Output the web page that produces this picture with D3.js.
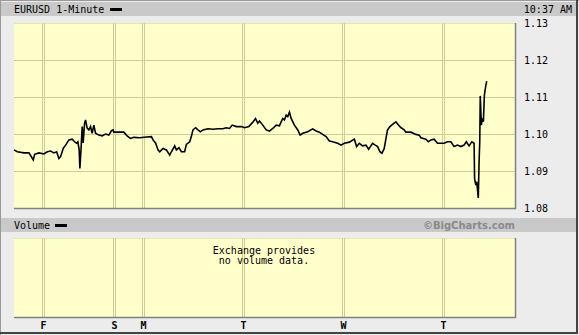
<!DOCTYPE html>
<html>
<head>
<meta charset="utf-8">
<script src="https://cdn.jsdelivr.net/npm/d3@7"></script>
<style>
  body { margin: 0; background: #ececec; }
  svg { display: block; }
  text { font-family: "DejaVu Sans Mono", "Liberation Mono", monospace; font-size: 10px; fill: #000; }
</style>
</head>
<body>
<div id="chart"></div>
<script>
// hours since Thu 17:00 ET, weekend closed time removed
var hours = [0, 0.79, 2.40, 3.59, 4.62, 4.96, 5.99, 7.19, 7.98, 8.79, 9.58, 10.23, 10.78, 11.19, 11.81, 12.38, 13.17, 13.96, 14.54, 15.02,
  15.33, 15.64, 15.81, 16.12, 16.36, 16.60, 16.93, 17.17, 17.56, 17.96, 18.37, 18.75, 19.16, 19.57, 20.36, 21.15, 21.96, 22.75, 23.40, 23.78,
  23.95, 26.35, 27.14, 27.95, 28.74, 30.18, 31.78, 32.98, 33.37, 34.01, 34.56, 34.97, 35.76, 36.57, 37.37, 37.77, 38.56, 38.97, 39.59, 40.17,
  40.96, 41.37, 42.16, 42.56, 42.95, 43.59, 44.14, 44.72, 45.34, 46.54, 47.74, 48.93, 50.13, 50.95, 51.74, 52.38, 53.34, 54.54, 55.33, 56.36,
  57.32, 57.96, 58.51, 58.92, 59.71, 60.53, 61.32, 62.11, 62.92, 63.71, 64.12, 64.50, 64.91, 65.32, 65.70, 66.11, 66.51, 67.31, 68.10, 68.67,
  69.29, 70.49, 71.69, 72.50, 73.29, 74.08, 74.90, 75.69, 76.48, 77.68, 78.49, 79.28, 80.48, 81.68, 82.23, 82.87, 83.66, 84.48, 85.10, 86.06,
  86.71, 87.26, 87.83, 88.31, 88.86, 89.41, 89.65, 90.23, 90.85, 91.66, 92.29, 92.86, 93.65, 94.06, 95.26, 96.46, 97.25, 97.65, 98.85, 99.47,
  100.05, 100.84, 101.63, 102.44, 103.23, 104.02, 104.84, 105.63, 106.42, 107.23, 108.02, 108.57, 109.22, 109.87, 110.42, 110.54, 110.83, 111.07, 111.31, 111.43,
  111.62, 111.78, 111.90, 112.17, 112.41, 112.65, 112.89, 113.22, 113.46];

var prices = [1.0957, 1.0952, 1.0949, 1.0949, 1.0930, 1.0945, 1.0949, 1.0946, 1.0952, 1.0954, 1.0949, 1.0952, 1.0934, 1.0939, 1.0961, 1.0970, 1.0984, 1.0986, 1.0979, 1.0975,
  1.0979, 1.0957, 1.0907, 1.0966, 1.1020, 1.0976, 1.1029, 1.1038, 1.1016, 1.1011, 1.1020, 1.1002, 1.1024, 1.1002, 1.0997, 1.0995, 1.1000, 1.0997, 1.1009, 1.1011,
  1.1005, 1.1005, 1.0995, 1.0988, 1.0991, 1.0990, 1.0992, 1.0993, 1.0984, 1.0975, 1.0957, 1.0952, 1.0961, 1.0957, 1.0943, 1.0952, 1.0968, 1.0957, 1.0963, 1.0952,
  1.0952, 1.0972, 1.0979, 1.0993, 1.1011, 1.1017, 1.1011, 1.1006, 1.1011, 1.1014, 1.1013, 1.1014, 1.1014, 1.1017, 1.1015, 1.1024, 1.1020, 1.1020, 1.1017, 1.1020,
  1.1032, 1.1042, 1.1029, 1.1035, 1.1024, 1.1011, 1.1008, 1.1015, 1.1024, 1.1022, 1.1033, 1.1042, 1.1038, 1.1051, 1.1047, 1.1059, 1.1042, 1.1024, 1.1011, 1.0997,
  1.1002, 1.1006, 1.1014, 1.1008, 1.1005, 1.0999, 1.0993, 1.0981, 1.0979, 1.0975, 1.0970, 1.0975, 1.0978, 1.0986, 1.0966, 1.0975, 1.0968, 1.0970, 1.0959, 1.0975,
  1.0970, 1.0966, 1.0952, 1.0948, 1.0961, 1.0997, 1.1011, 1.1020, 1.1026, 1.1033, 1.1024, 1.1017, 1.1011, 1.1005, 1.1005, 1.0999, 1.0997, 1.0990, 1.0986, 1.0979,
  1.0984, 1.0986, 1.0975, 1.0975, 1.0975, 1.0979, 1.0979, 1.0966, 1.0970, 1.0966, 1.0970, 1.0979, 1.0968, 1.0979, 1.0975, 1.0880, 1.0862, 1.0871, 1.0840, 1.0827,
  1.0925, 1.0979, 1.1103, 1.1024, 1.1042, 1.1033, 1.1105, 1.1130, 1.1143];

var dayLabels = ["F", "S", "M", "T", "W", "T"];
var dayHours = [7, 24, 31, 55, 79, 103];
var priceTicks = [1.08, 1.09, 1.10, 1.11, 1.12, 1.13];

var width = 579, height = 335;
var plot = {left: 14, right: 515, top: 23, bottom: 208};
var vol = {top: 238, bottom: 317};
var bg = "#ffffcc", gridColor = "#cdcd96";

var svg = d3.select("#chart").append("svg")
    .attr("width", width)
    .attr("height", height);

var x = d3.scaleLinear().domain([0, 120]).range([14, 514]);
var y = d3.scaleLinear().domain([1.08, 1.13]).range([plot.bottom, plot.top]);

// outer frame
svg.append("rect").attr("width", width).attr("height", height).attr("fill", "#ececec");
svg.append("rect").attr("x", 0).attr("y", 0).attr("width", 1).attr("height", height).attr("fill", "#999");
svg.append("rect").attr("x", 0).attr("y", 0).attr("width", width).attr("height", 1).attr("fill", "#999");
svg.append("rect").attr("x", width - 3).attr("y", 0).attr("width", 2).attr("height", height - 1).attr("fill", "#444");
svg.append("rect").attr("x", 0).attr("y", height - 3).attr("width", width - 1).attr("height", 2).attr("fill", "#444");

// header bars
svg.append("rect").attr("x", 1).attr("y", 2).attr("width", width - 4).attr("height", 14).attr("fill", "#c9c9c9");
svg.append("rect").attr("x", 1).attr("y", 218).attr("width", width - 4).attr("height", 14).attr("fill", "#c9c9c9");

svg.append("text").attr("x", 14).attr("y", 13).text("EURUSD 1-Minute");
svg.append("rect").attr("x", 110).attr("y", 8).attr("width", 12).attr("height", 3).attr("fill", "#000");
svg.append("text").attr("x", 572).attr("y", 13).attr("text-anchor", "end").text("10:37 AM");

svg.append("text").attr("x", 14).attr("y", 229).text("Volume");
svg.append("rect").attr("x", 55).attr("y", 224).attr("width", 12).attr("height", 3).attr("fill", "#000");
svg.append("text").attr("x", 515).attr("y", 229).attr("text-anchor", "end")
    .style("font-family", "'DejaVu Sans', Verdana, sans-serif")
    .style("font-weight", "bold")
    .style("fill", "#8a8a8a")
    .text("\u00A9BigCharts.com");

// panels
function panel(top, bottom) {
  var g = svg.append("g");
  g.append("rect").attr("x", plot.left).attr("y", top)
    .attr("width", plot.right - plot.left).attr("height", bottom - top)
    .attr("fill", bg);
  g.append("line").attr("x1", plot.left).attr("x2", plot.right).attr("y1", top + 0.5).attr("y2", top + 0.5)
    .attr("stroke", "#e6e6b0");
  dayHours.forEach(function(h) {
    [-1, 1].forEach(function(o) {
      var xx = Math.round(x(h)) + o + 0.5;
      g.append("line").attr("x1", xx).attr("x2", xx).attr("y1", top).attr("y2", bottom)
        .attr("stroke", gridColor);
    });
  });
  g.append("line").attr("x1", plot.left).attr("x2", plot.right + 1).attr("y1", bottom + 0.5).attr("y2", bottom + 0.5)
    .attr("stroke", "#808080").attr("stroke-width", 1.5);
  g.append("line").attr("x1", plot.right + 0.5).attr("x2", plot.right + 0.5).attr("y1", top).attr("y2", bottom + 1)
    .attr("stroke", "#808080").attr("stroke-width", 1.5);
  return g;
}

var priceG = panel(plot.top, plot.bottom);
panel(vol.top, vol.bottom);

// horizontal price grid
priceG.selectAll(".hgrid")
  .data(priceTicks.slice(1, -1))
  .enter().append("line")
  .attr("class", "hgrid")
  .attr("x1", plot.left).attr("x2", plot.right)
  .attr("y1", function(d) { return Math.round(y(d)) + 0.5; })
  .attr("y2", function(d) { return Math.round(y(d)) + 0.5; })
  .attr("stroke", gridColor);

// y labels
svg.selectAll(".ylab")
  .data(priceTicks)
  .enter().append("text")
  .attr("class", "ylab")
  .attr("x", 524)
  .attr("y", function(d) { return y(d); })
  .attr("dy", "0.35em")
  .text(function(d) { return d3.format(".2f")(d); });

// price line
var pts = hours.map(function(h, i) { return [h, prices[i]]; });
var line = d3.line()
  .x(function(d) { return x(d[0]); })
  .y(function(d) { return y(d[1]); });

svg.append("path")
  .datum(pts)
  .attr("d", line)
  .attr("fill", "none")
  .attr("stroke", "#000")
  .attr("stroke-width", 1.6)
  .attr("stroke-linejoin", "miter");

// volume note
svg.append("text").attr("x", 264).attr("y", 254).attr("text-anchor", "middle").text("Exchange provides");
svg.append("text").attr("x", 264).attr("y", 264).attr("text-anchor", "middle").text("no volume data.");

// day labels
svg.selectAll(".xlab")
  .data(dayHours)
  .enter().append("text")
  .attr("class", "xlab")
  .attr("x", function(d) { return Math.round(x(d)) + 0.5; })
  .attr("y", 329)
  .attr("text-anchor", "middle")
  .style("font-weight", "bold")
  .text(function(d, i) { return dayLabels[i]; });
</script>
</body>
</html>
